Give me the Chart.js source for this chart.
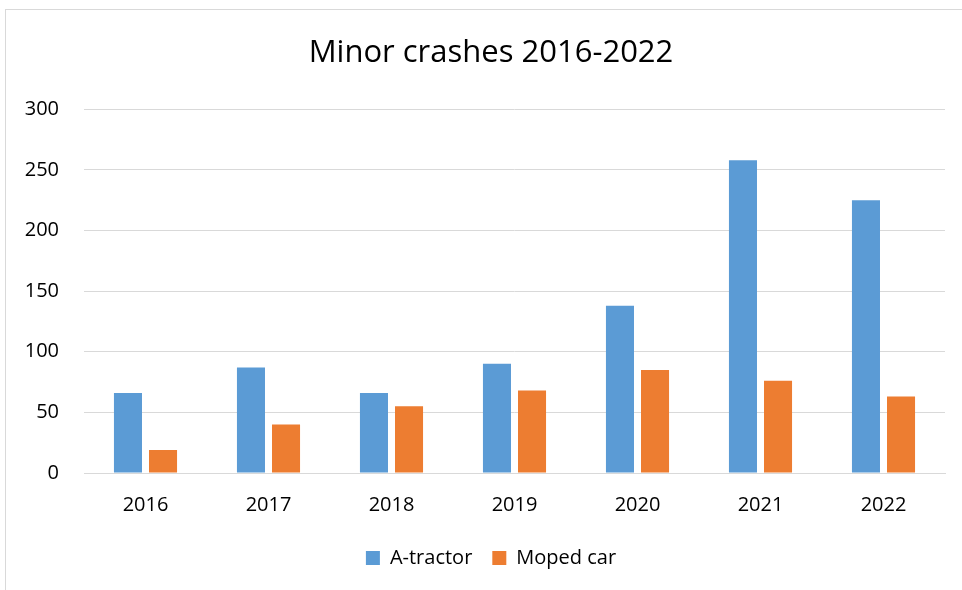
<!DOCTYPE html>
<html>
<head>
<meta charset="utf-8">
<script src="https://cdn.jsdelivr.net/npm/chart.js@4"></script>
<style>
  html, body { margin: 0; padding: 0; background: #fff; }
  .frame { position: absolute; left: 5px; top: 9px; width: 1000px; height: 640px; border: 1px solid #d9d9d9; box-sizing: border-box; }
  .wrap { position: absolute; left: 0; top: 0; width: 962px; height: 590px; }
</style>
</head>
<body>
<div class="frame"></div>
<div class="wrap"><canvas id="crashes" width="962" height="590"></canvas></div>
<script>
const years = ['2016', '2017', '2018', '2019', '2020', '2021', '2022'];
const tractor = [66, 87, 66, 90, 138, 258, 225];
const moped = [19, 40, 55, 68, 85, 76, 63];
const seriesNames = ['A-tractor', 'Moped car'];

const font = '"Open Sans", Lato, sans-serif';
const grey = '#d9d9d9';

new Chart(document.getElementById('crashes'), {
  type: 'bar',
  data: {
    labels: years,
    datasets: [
      { label: seriesNames[0], data: tractor, backgroundColor: '#5b9bd5', barPercentage: 0.8, categoryPercentage: 0.57 },
      { label: seriesNames[1], data: moped, backgroundColor: '#ed7d31', barPercentage: 0.8, categoryPercentage: 0.57 },
    ],
  },
  options: {
    responsive: false,
    maintainAspectRatio: false,
    animation: false,
    devicePixelRatio: 1,
    layout: { padding: { left: 20, right: 0, top: 0, bottom: 12 } },
    plugins: {
      title: {
        display: true,
        text: 'Minor crashes 2016-2022',
        color: '#000',
        font: { family: font, size: 31, weight: 'normal' },
        padding: { top: 35, bottom: 37 },
      },
      legend: {
        position: 'bottom',
        labels: {
          color: '#000',
          font: { family: font, size: 20 },
          boxWidth: 14,
          boxHeight: 14,
          padding: 20,
        },
      },
      tooltip: { enabled: false },
    },
    scales: {
      x: {
        grid: { display: false, drawTicks: false },
        border: { display: true, color: grey },
        ticks: { color: '#000', font: { family: font, size: 20 }, padding: 20, maxRotation: 0 },
        afterFit: (scale) => { scale.height = 55; },
      },
      y: {
        min: 0,
        max: 300,
        grid: { color: grey, drawTicks: false },
        border: { display: false },
        ticks: { stepSize: 50, color: '#000', font: { family: font, size: 20 }, padding: 25 },
        afterFit: (scale) => { scale.width = 64; },
      },
      spacer: {
        type: 'linear',
        position: 'right',
        grid: { display: false, drawTicks: false },
        border: { display: false },
        ticks: { display: false },
        afterFit: (scale) => { scale.width = 17; },
      },
    },
  },
});
</script>
</body>
</html>
